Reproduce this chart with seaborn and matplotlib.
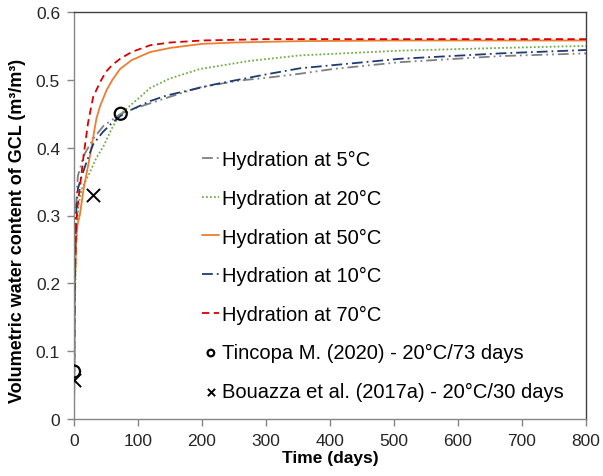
import matplotlib
matplotlib.use("Agg")
import matplotlib.pyplot as plt
import seaborn as sns
import pandas as pd

# ---- data ----
t_5 = [0, 1, 3, 6, 15, 30, 46, 73, 92, 150, 197, 259, 301, 353, 405, 509, 666, 800]
v_5 = [0, 0.22, 0.31, 0.358, 0.388, 0.413, 0.432, 0.45, 0.457, 0.475, 0.489, 0.499, 0.503, 0.509, 0.516, 0.526, 0.535, 0.539]

t_20 = [0, 1, 3, 7, 12, 25, 35, 46, 60, 73, 100, 119, 150, 197, 275, 353, 509, 666, 800]
v_20 = [0, 0.15, 0.25, 0.315, 0.339, 0.364, 0.385, 0.402, 0.43, 0.45, 0.472, 0.488, 0.502, 0.516, 0.528, 0.536, 0.543, 0.547, 0.55]

t_50 = [0, 1, 3, 5, 9, 15, 25, 35, 41, 51, 60, 72, 90, 119, 150, 200, 250, 350, 500, 800]
v_50 = [0, 0.17, 0.26, 0.285, 0.30, 0.339, 0.388, 0.443, 0.462, 0.485, 0.50, 0.516, 0.529, 0.541, 0.547, 0.553, 0.555, 0.557, 0.558, 0.558]

t_10 = [0, 1, 3, 6, 12, 20, 30, 45, 60, 73, 92, 120, 145, 223, 300, 353, 509, 666, 800]
v_10 = [0, 0.2, 0.30, 0.339, 0.358, 0.38, 0.405, 0.423, 0.437, 0.447, 0.457, 0.469, 0.477, 0.494, 0.508, 0.517, 0.531, 0.539, 0.544]

t_70 = [0, 1, 3, 5, 9, 15, 22, 30, 41, 50, 60, 72, 90, 119, 150, 200, 300, 400, 800]
v_70 = [0, 0.18, 0.27, 0.31, 0.34, 0.388, 0.437, 0.475, 0.497, 0.512, 0.522, 0.531, 0.541, 0.551, 0.555, 0.558, 0.56, 0.56, 0.56]

tincopa_t = [0, 73]
tincopa_v = [0.07, 0.45]
bouazza_t = [0, 30]
bouazza_v = [0.057, 0.33]

labels = ["Hydration at 5°C", "Hydration at 20°C", "Hydration at 50°C",
          "Hydration at 10°C", "Hydration at 70°C"]
colors = ["#7f7f7f", "#70ad47", "#ed7d31", "#1f3b73", "#d90000"]
dash_patterns = [(6, 2.2, 1, 2.2, 1, 2.2), (1, 1.2), None, (6, 2.2, 1, 2.2), (4, 2.5)]
series_t = [t_5, t_20, t_50, t_10, t_70]
series_v = [v_5, v_20, v_50, v_10, v_70]

sns.set_theme(style="white")
plt.rcParams["font.family"] = ["Liberation Sans", "DejaVu Sans"]

fig = plt.figure(figsize=(6.03, 4.77), dpi=100)
ax = fig.add_axes([74 / 603, 1 - 420 / 477, 512 / 603, 407 / 477])

handles = []
for t, v, lab, col, dp in zip(series_t, series_v, labels, colors, dash_patterns):
    df = pd.DataFrame({"t": t, "v": v})
    sns.lineplot(data=df, x="t", y="v", ax=ax, color=col, lw=1.3,
                 estimator=None, sort=False, legend=False)
    ln = ax.lines[-1]
    if dp is not None:
        ln.set_dashes(dp)
    ln.set_label(lab)
    handles.append(ln)

sns.scatterplot(x=tincopa_t, y=tincopa_v, ax=ax, marker="o", s=75,
                facecolor="none", edgecolor="black", linewidth=1.6,
                label="Tincopa M. (2020) - 20°C/73 days", zorder=5)
sns.scatterplot(x=bouazza_t, y=bouazza_v, ax=ax, marker="x", s=90,
                color="black", linewidth=1.4,
                label="Bouazza et al. (2017a) - 20°C/30 days", zorder=5)
coll = ax.collections
handles += [coll[-2], coll[-1]]

ax.set_xlim(0, 800)
ax.set_ylim(0, 0.6)
ax.set_xticks(range(0, 801, 100))
ax.set_yticks([0, 0.1, 0.2, 0.3, 0.4, 0.5, 0.6])
ax.set_yticklabels(["0", "0.1", "0.2", "0.3", "0.4", "0.5", "0.6"])
ax.tick_params(axis="both", direction="out", length=5, width=1, color="#868686",
               labelsize=12.5, labelcolor="#262626", pad=5, bottom=True, left=True)
for side in ["left", "bottom"]:
    ax.spines[side].set_color("#868686")
    ax.spines[side].set_linewidth(1)
for side in ["top", "right"]:
    ax.spines[side].set_color("#404040")
    ax.spines[side].set_linewidth(1)

ax.set_xlabel("Time (days)", fontsize=12.5, fontweight="bold", color="black")
ax.xaxis.set_label_coords(0.5, -0.077)
ax.set_ylabel("Volumetric water content of GCL (m³/m³)", fontsize=13,
              fontweight="bold", color="black")
ax.yaxis.set_label_coords(-0.093, 0.465)

leg = ax.legend(handles=handles, loc="upper left", bbox_to_anchor=(0.231, 0.685),
                frameon=False, fontsize=14.5, handlelength=0.85, handletextpad=0.12,
                labelspacing=0.97, borderpad=0, markerscale=0.55)
for txt in leg.get_texts():
    txt.set_color("black")

fig.savefig("out.png", dpi=100)
